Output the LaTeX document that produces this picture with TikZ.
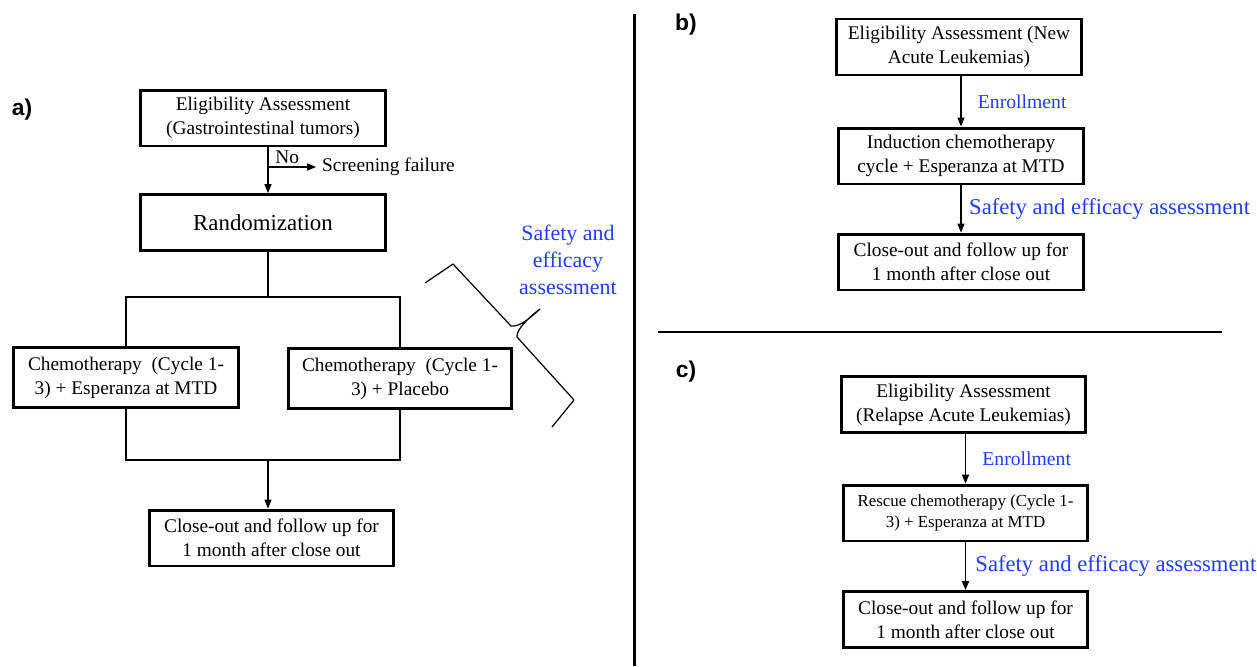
\documentclass[tikz,border=0pt]{standalone}
\usepackage{fontspec}
\setmainfont{Liberation Serif}
\newfontfamily\panelfont{Liberation Sans}
\usetikzlibrary{arrows.meta, positioning}
\definecolor{noteblue}{RGB}{35,60,250}

\begin{document}
\begin{tikzpicture}[x=0.02cm, y=-0.02cm,
    stage/.style={rectangle, draw, line width=1.7pt, minimum width=4.9cm, minimum height=1.12cm, align=center, font=\rmfamily\fontsize{11}{13.6}\selectfont},
    smallstage/.style={stage, font=\rmfamily\fontsize{9.6}{11.8}\selectfont},
    flow/.style={-{Triangle[length=5pt, width=4pt]}, line width=0.6pt},
    link/.style={line width=0.6pt},
    note/.style={text=noteblue, align=center},
    panel/.style={font=\panelfont\bfseries\fontsize{13}{15}\selectfont},
    divider/.style={line width=1.7pt}
]
\useasboundingbox (0,0) rectangle (1257,666);

% Panel a
\node[panel] (labA) at (22,110) {a)};
\node[stage] (eligA) at (263,118) {Eligibility Assessment\\(Gastrointestinal tumors)};
\node[stage, font=\fontsize{13}{15}\selectfont] (randA) at (263,222.5) {Randomization};
\node[stage, minimum width=4.5cm, minimum height=1.2cm] (chemoL) at (126,377.5) {Chemotherapy~ (Cycle 1-\\3) + Esperanza at MTD};
\node[stage, minimum width=4.45cm, minimum height=1.2cm] (chemoR) at (400,378.5) {Chemotherapy~ (Cycle 1-\\3) + Placebo};
\node[stage] (closeA) at (271.5,538) {Close-out and follow up for\\1 month after close out};
\node[anchor=west, font=\fontsize{11}{13.6}\selectfont] (failA) at (316,167) {Screening failure};

\coordinate (noA) at (268,167);
\coordinate (forkA) at (268,297);
\coordinate (joinA) at (268,460);

\draw[flow] (eligA.south -| noA) -- (randA.north -| noA);
\draw[flow] (noA) -- node[above=-1.5pt, pos=0.4, font=\fontsize{11}{13.6}\selectfont] {No} (failA.west);
\draw[link] (randA.south -| forkA) -- (forkA);
\draw[link] (chemoL.north) |- (forkA) -| (chemoR.north);
\draw[link] (chemoL.south) |- (joinA) -| (chemoR.south);
\draw[flow] (joinA) -- (closeA.north -| joinA);

% brace and assessment note
\draw[line width=0.7pt, line join=round] (425,283) -- (453,264) -- (511,326)
  .. controls (520,327) and (530,318) .. (540,309)
  .. controls (528,318) and (516,330) .. (517,337) -- (574,400) -- (552,427);
\node[note, font=\fontsize{12.5}{15.3}\selectfont] (noteA) at (568,260) {Safety and\\efficacy\\assessment};

% dividers
\draw[divider] (634,14) -- (634,666);
\draw[divider] (658,332) -- (1222,332);

% Panel b
\node[panel] (labB) at (686,25) {b)};
\node[stage] (eligB) at (959,47) {Eligibility Assessment (New\\Acute Leukemias)};
\node[stage] (inducB) at (961,156) {Induction chemotherapy\\cycle + Esperanza at MTD};
\node[stage] (closeB) at (961,262) {Close-out and follow up for\\1 month after close out};
\draw[flow] (eligB.south -| inducB) -- node[note, right=6pt, font=\fontsize{11.2}{13}\selectfont] {Enrollment} (inducB.north);
\draw[flow] (inducB) -- node[note, right=1pt, font=\fontsize{12.9}{15}\selectfont] {Safety and efficacy assessment} (closeB);

% Panel c
\node[panel] (labC) at (686,372) {c)};
\node[stage] (eligC) at (963.5,404.5) {Eligibility Assessment\\(Relapse Acute Leukemias)};
\node[smallstage] (rescC) at (965.5,513) {Rescue chemotherapy (Cycle 1-\\3) + Esperanza at MTD};
\node[stage] (closeC) at (965.5,619.5) {Close-out and follow up for\\1 month after close out};
\draw[flow] (eligC.south -| rescC) -- node[note, right=6pt, font=\fontsize{11.2}{13}\selectfont] {Enrollment} (rescC.north);
\draw[flow] (rescC) -- node[note, right=2pt, font=\fontsize{12.9}{15}\selectfont] {Safety and efficacy assessment} (closeC);

\end{tikzpicture}
\end{document}
